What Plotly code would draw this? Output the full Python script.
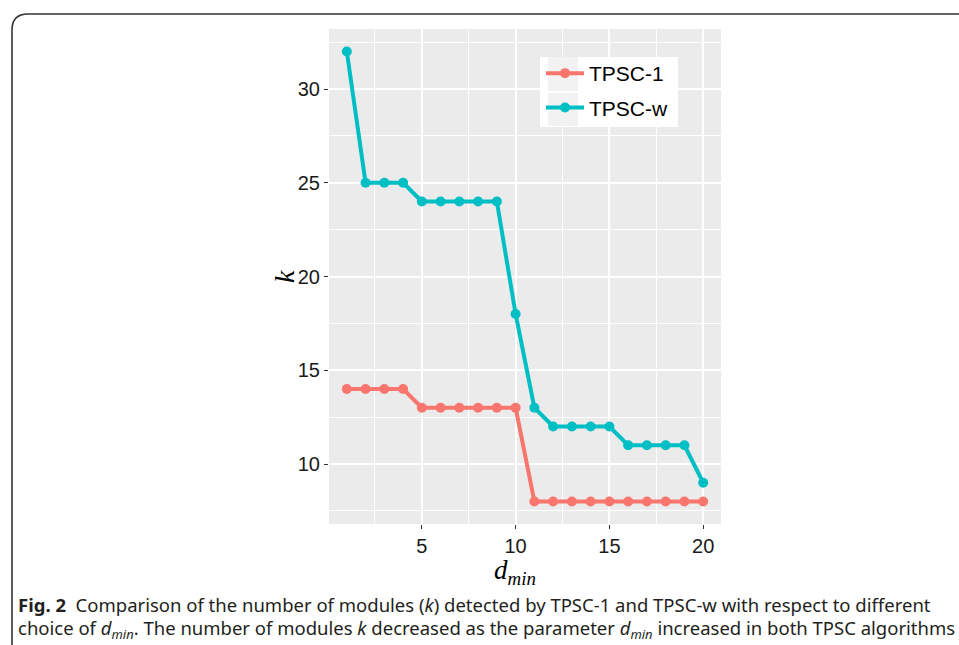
import plotly.graph_objects as go

d_min = list(range(1, 21))
tpsc_1 = [14, 14, 14, 14, 13, 13, 13, 13, 13, 13, 8, 8, 8, 8, 8, 8, 8, 8, 8, 8]
tpsc_w = [32, 25, 25, 25, 24, 24, 24, 24, 24, 18, 13, 12, 12, 12, 12, 11, 11, 11, 11, 9]
series_names = ["TPSC-1", "TPSC-w"]
series_colors = ["#F8766D", "#00BFC4"]
x_ticks = [5, 10, 15, 20]
y_ticks = [10, 15, 20, 25, 30]

W, H = 959, 645
L, R, T, B = 329, 721, 29, 524

def px(x):
    return (x - L) / (R - L)

def py(y):
    return (B - y) / (B - T)

fig = go.Figure()
for name, vals, col in zip(series_names, [tpsc_1, tpsc_w], series_colors):
    fig.add_trace(go.Scatter(x=d_min, y=vals, name=name, mode="lines+markers",
                             legendgroup=name,
                             line=dict(color=col, width=4),
                             marker=dict(color=col, size=10)))

grid = "#FFFFFF"
tick_font = dict(family="Liberation Sans, Arial", size=20, color="#1a1a1a")
fig.update_xaxes(range=[0.05, 20.95], tickvals=x_ticks, showgrid=True, gridcolor=grid,
                 gridwidth=2, minor=dict(dtick=5, tick0=2.5, showgrid=True, gridcolor=grid, gridwidth=1),
                 ticks="outside", ticklen=4, tickcolor="#333333", tickwidth=1,
                 tickfont=tick_font, zeroline=False, showline=False)
fig.update_yaxes(range=[6.8, 33.2], tickvals=y_ticks, showgrid=True, gridcolor=grid,
                 gridwidth=2, minor=dict(dtick=5, tick0=7.5, showgrid=True, gridcolor=grid, gridwidth=1),
                 ticks="outside", ticklen=4, tickcolor="#333333", tickwidth=1,
                 tickfont=tick_font, zeroline=False, showline=False)

title_font = dict(family="Liberation Serif, Times New Roman", size=28, color="#000")
fig.add_annotation(xref="paper", yref="paper", x=px(284), y=py(277), xanchor="center", yanchor="middle",
                   showarrow=False, text="<i>k</i>", textangle=-90, font=title_font)
fig.add_annotation(xref="paper", yref="paper", x=px(515), y=py(572), xanchor="center", yanchor="middle",
                   showarrow=False, text="<i>d<sub>min</sub></i>", font=dict(title_font, size=27))

# frame with rounded top-left corner
x0, y0, r = 12, 14, 16
path = (f"M {px(x0)} {py(H+5)} L {px(x0)} {py(y0+r)} "
        f"Q {px(x0)} {py(y0)} {px(x0+r)} {py(y0)} L {px(W+5)} {py(y0)}")
fig.add_shape(type="path", path=path, xref="paper", yref="paper",
              line=dict(color="#333333", width=1.6))

# legend box and key backgrounds
fig.add_shape(type="rect", xref="paper", yref="paper", x0=px(540), x1=px(678), y0=py(127), y1=py(57),
              fillcolor="white", line=dict(width=0), layer="above")
for ky0, ky1 in [(57, 91), (93, 126)]:
    fig.add_shape(type="rect", xref="paper", yref="paper", x0=px(548), x1=px(578), y0=py(ky1), y1=py(ky0),
                  fillcolor="#F2F2F2", line=dict(width=0), layer="above")

cap_font = dict(family="Noto Sans, Open Sans", size=18.5, color="#231F20")
fig.add_annotation(xref="paper", yref="paper", x=px(16), y=py(604), xanchor="left", yanchor="middle",
                   showarrow=False, align="left", font=cap_font,
                   text="<b>Fig. 2</b>  Comparison of the number of modules (<i>k</i>) detected by TPSC-1 and TPSC-w with respect to different")
fig.add_annotation(xref="paper", yref="paper", x=px(16), y=py(629), xanchor="left", yanchor="middle",
                   showarrow=False, align="left", font=cap_font,
                   text="choice of <i>d<sub>min</sub></i>. The number of modules <i>k</i> decreased as the parameter <i>d<sub>min</sub></i> increased in both TPSC algorithms")

fig.update_layout(width=W, height=H, margin=dict(l=L, r=W - R, t=T, b=H - B),
                  paper_bgcolor="white", plot_bgcolor="#EBEBEB", showlegend=True,
                  legend=dict(x=px(541), y=py(53), xanchor="left", yanchor="top",
                              bgcolor="rgba(0,0,0,0)", borderwidth=0,
                              font=dict(family="Liberation Sans, Arial", size=21, color="#000"),
                              itemwidth=38, tracegroupgap=4))
fig.write_html("out.html", config={"displayModeBar": False},
               post_script="document.body.style.margin='0';document.body.style.overflow='hidden';")
